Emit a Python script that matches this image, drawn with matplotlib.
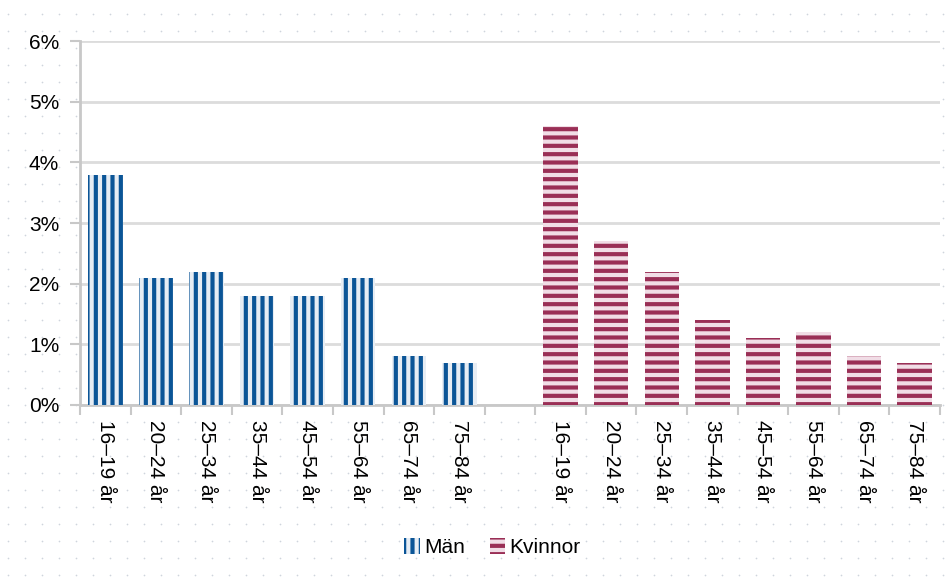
import numpy as np
import matplotlib
matplotlib.use("Agg")
import matplotlib.pyplot as plt
from matplotlib.patches import Patch

plt.rcParams['font.family'] = ['Liberation Sans', 'DejaVu Sans']

# data
age_groups = ['16–19 år', '20–24 år', '25–34 år', '35–44 år',
              '45–54 år', '55–64 år', '65–74 år', '75–84 år']
man_values = [3.8, 2.1, 2.2, 1.8, 1.8, 2.1, 0.8, 0.7]
kvinnor_values = [4.6, 2.7, 2.2, 1.4, 1.1, 1.2, 0.8, 0.7]
y_ticks = [0, 1, 2, 3, 4, 5, 6]

blue = '#0b5597'
blue_bg = '#e7edf4'
red = '#9a2f56'
red_bg = '#f1dde6'

fig = plt.figure(figsize=(9.47, 5.81), dpi=100)

# dotted background
bg = fig.add_axes([0, 0, 1, 1], zorder=-1)
bg.set_xlim(0, 947)
bg.set_ylim(0, 581)
gx, gy = np.meshgrid(np.arange(8, 947, 17), np.arange(6, 581, 17))
bg.scatter(gx.ravel(), gy.ravel(), s=1.5, color='#cfd4dd', lw=0)
bg.axis('off')

ax = fig.add_axes([0.0845, 0.303, 0.9081, 0.626])
ax.set_facecolor('white')

n = len(age_groups)
x_man = np.arange(n)
x_kv = np.arange(n) + n + 1
width = 0.68

plt.rcParams['hatch.linewidth'] = 3.0
ax.bar(x_man, man_values, width, color=blue_bg, edgecolor=blue,
       hatch='||', linewidth=0, zorder=3)
ax.bar(x_kv, kvinnor_values, width, color=red_bg, edgecolor=red,
       hatch='--', linewidth=0, zorder=3)

ax.set_xlim(-0.5, 2 * n + 0.5)
ax.set_ylim(0, 6)
ax.set_yticks(y_ticks)
ax.set_yticklabels(['{}%'.format(v) for v in y_ticks], fontsize=15)
ax.yaxis.grid(True, color='#dcdcdc', linewidth=2, zorder=0)
ax.set_axisbelow(True)

# slot boundaries as major ticks, labels on minor ticks
ax.set_xticks(np.arange(-0.5, 2 * n + 1, 1))
ax.set_xticklabels([])
ax.set_xticks(np.concatenate([x_man, x_kv]), minor=True)
ax.set_xticklabels(age_groups + age_groups, minor=True, rotation=270,
                   fontsize=15, va='top', ha='center')
ax.tick_params(axis='x', which='minor', length=0, pad=11)
ax.tick_params(axis='x', which='major', length=7, width=1.5, color='#c8c8c8')
ax.tick_params(axis='y', length=7, width=1.5, color='#c8c8c8', pad=8)

for side in ['top', 'right']:
    ax.spines[side].set_visible(False)
for side in ['left', 'bottom']:
    ax.spines[side].set_color('#c8c8c8')
    ax.spines[side].set_linewidth(2)

handles = [Patch(facecolor=blue_bg, edgecolor=blue, hatch='||', linewidth=0, label='Män'),
           Patch(facecolor=red_bg, edgecolor=red, hatch='--', linewidth=0, label='Kvinnor')]
fig.legend(handles=handles, loc='center', bbox_to_anchor=(0.52, 0.057), ncol=2,
           frameon=False, fontsize=15, handlelength=0.75, handleheight=0.8,
           handletextpad=0.2, columnspacing=1.2)

fig.savefig('out.png', dpi=100)
